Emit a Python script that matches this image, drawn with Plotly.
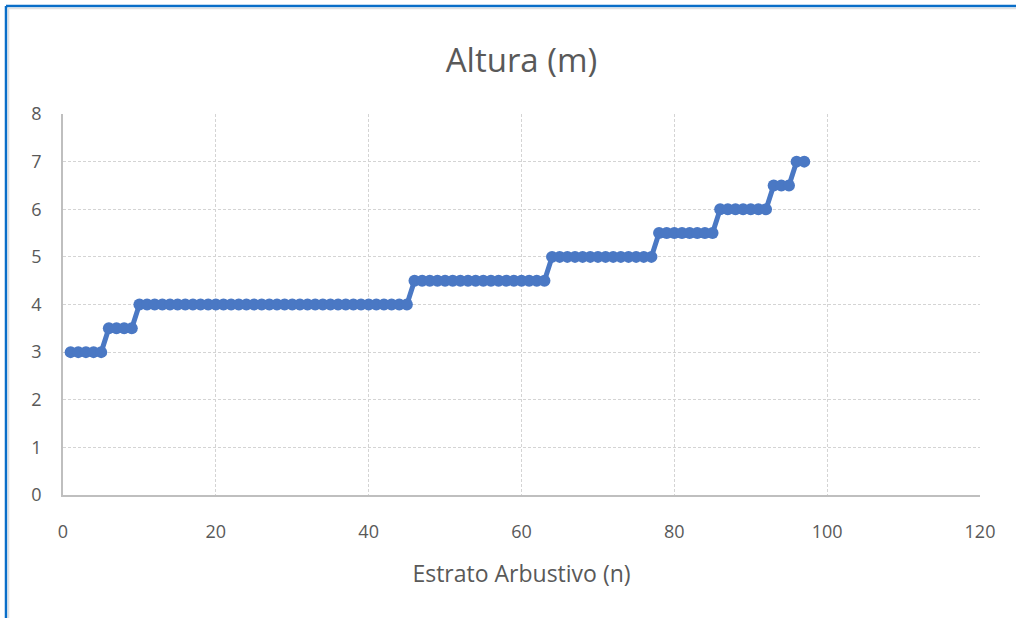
import plotly.graph_objects as go

# Shrub stratum: individual index (n) and height (m)
individuo = list(range(1, 98))
altura = [
    3.0, 3.0, 3.0, 3.0, 3.0,
    3.5, 3.5, 3.5, 3.5,
    4.0, 4.0, 4.0, 4.0, 4.0, 4.0, 4.0, 4.0, 4.0, 4.0, 4.0, 4.0,
    4.0, 4.0, 4.0, 4.0, 4.0, 4.0, 4.0, 4.0, 4.0, 4.0, 4.0, 4.0,
    4.0, 4.0, 4.0, 4.0, 4.0, 4.0, 4.0, 4.0, 4.0, 4.0, 4.0, 4.0,
    4.5, 4.5, 4.5, 4.5, 4.5, 4.5, 4.5, 4.5, 4.5,
    4.5, 4.5, 4.5, 4.5, 4.5, 4.5, 4.5, 4.5, 4.5,
    5.0, 5.0, 5.0, 5.0, 5.0, 5.0, 5.0, 5.0, 5.0, 5.0, 5.0, 5.0, 5.0, 5.0,
    5.5, 5.5, 5.5, 5.5, 5.5, 5.5, 5.5, 5.5,
    6.0, 6.0, 6.0, 6.0, 6.0, 6.0, 6.0,
    6.5, 6.5, 6.5,
    7.0, 7.0,
]

x_ticks = [0, 20, 40, 60, 80, 100, 120]
y_ticks = [0, 1, 2, 3, 4, 5, 6, 7, 8]

FONT = "Open Sans, Liberation Sans, sans-serif"
GREY_TXT = "#595959"
GRID = "#D4D4D4"
BLUE = "#4A78C4"

fig = go.Figure()
fig.add_trace(go.Scatter(
    x=individuo, y=altura, mode="lines+markers",
    line=dict(color=BLUE, width=5),
    marker=dict(color=BLUE, size=12, symbol="circle"),
    showlegend=False,
))

fig.update_layout(
    width=1016, height=618,
    margin=dict(l=63, r=36, t=114, b=123),
    paper_bgcolor="white", plot_bgcolor="white",
    font=dict(family=FONT, color=GREY_TXT, size=18),
    title=dict(text="Altura (m)", x=0.5, xanchor="center", xref="paper",
               y=1 - 60 / 618, yanchor="middle",
               font=dict(size=33, color=GREY_TXT, family=FONT)),
    xaxis=dict(
        range=[0, 120], tickvals=x_ticks, ticktext=[str(v) for v in x_ticks],
        showgrid=True, gridcolor=GRID, griddash="3px,2px", gridwidth=1,
        showline=True, linecolor="#BFBFBF", linewidth=1.5, mirror=False,
        zeroline=False, ticks="", ticklabelstandoff=20,
        title=dict(text="Estrato Arbustivo (n)", standoff=24,
                   font=dict(size=23, color=GREY_TXT, family=FONT)),
        tickfont=dict(size=18, color=GREY_TXT),
    ),
    yaxis=dict(
        range=[0, 8], tickvals=y_ticks, ticktext=[str(v) for v in y_ticks],
        showgrid=True, gridcolor=GRID, griddash="3px,2px", gridwidth=1,
        showline=True, linecolor="#BFBFBF", linewidth=1.5,
        zeroline=False, ticks="", ticklabelstandoff=16,
        tickfont=dict(size=18, color=GREY_TXT),
    ),
)

# Frame around the chart object: blue edge on top and left side
px_w, px_h = 917.0, 381.0
def xp(px):
    return (px - 63) / px_w
def yp(py):
    return (495 - py) / px_h

fig.add_shape(type="line", xref="paper", yref="paper",
              x0=xp(6), x1=xp(1016), y0=yp(6), y1=yp(6),
              line=dict(color="#0A6EC8", width=2.5), layer="above")
fig.add_shape(type="line", xref="paper", yref="paper",
              x0=xp(6), x1=xp(6), y0=yp(6), y1=yp(618),
              line=dict(color="#0A6EC8", width=2.5), layer="above")
fig.add_shape(type="line", xref="paper", yref="paper",
              x0=xp(8), x1=xp(1016), y0=yp(8.5), y1=yp(8.5),
              line=dict(color="#E0E0E0", width=1.5), layer="above")
fig.add_shape(type="line", xref="paper", yref="paper",
              x0=xp(8.5), x1=xp(8.5), y0=yp(8), y1=yp(618),
              line=dict(color="#E0E0E0", width=1.5), layer="above")

fig.write_html("out.html")
